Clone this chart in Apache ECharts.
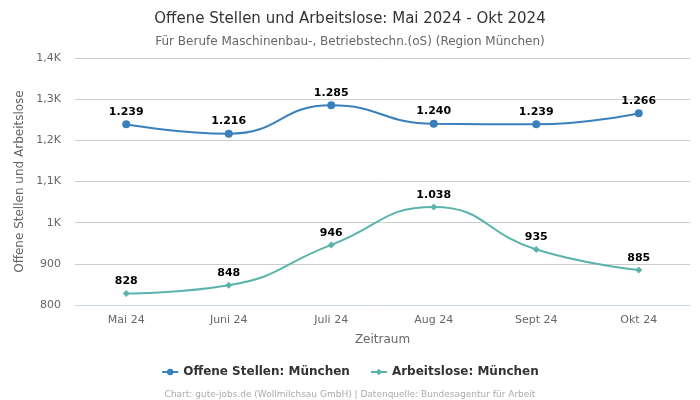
<!DOCTYPE html>
<html><head><meta charset="utf-8">
<script src="https://cdn.jsdelivr.net/npm/echarts@6/dist/echarts.min.js"></script>
<style>html,body{margin:0;padding:0;background:#fff}#c{width:700px;height:400px}</style>
</head><body><div id="c"></div>
<script>
var categories = ['Mai 24','Juni 24','Juli 24','Aug 24','Sept 24','Okt 24'];
var offeneStellen = [1239,1216,1285,1240,1239,1266];
var arbeitslose = [828,848,946,1038,935,885];
var yTicks = {min:800,max:1400,interval:100};

function deNum(v){return String(v).replace(/\B(?=(\d{3})+(?!\d))/g,'.');}
function yFmt(v){ if(v>=1000){return String(v/1000).replace('.',',')+'K';} return String(v); }
var font='DejaVu Sans';
var chart = echarts.init(document.getElementById('c'),null,{renderer:'canvas'});
chart.setOption({
  animation:false,
  textStyle:{fontFamily:font},
  title:[{text:'Offene Stellen und Arbeitslose: Mai 2024 - Okt 2024',left:'center',top:7,textStyle:{fontFamily:font,fontSize:15,fontWeight:'normal',color:'#333'}},
         {text:'Für Berufe Maschinenbau-, Betriebstechn.(oS) (Region München)',left:'center',top:31,textStyle:{fontFamily:font,fontSize:12,fontWeight:'normal',color:'#666'}},
         {text:'Chart: gute-jobs.de (Wollmilchsau GmbH) | Datenquelle: Bundesagentur für Arbeit',left:'center',top:385,textStyle:{fontFamily:font,fontSize:9,fontWeight:'normal',color:'#aaa'}}],
  legend:{top:361,left:'center',itemGap:20,itemWidth:16,itemHeight:8,textStyle:{fontFamily:font,fontSize:12,fontWeight:'bold',color:'#333'},
    data:['Offene Stellen: München','Arbeitslose: München']},
  grid:{left:75,right:10,top:58,bottom:95},
  xAxis:{type:'category',data:categories,boundaryGap:true,name:'Zeitraum',nameLocation:'middle',nameGap:29,
    nameTextStyle:{fontFamily:font,fontSize:12,color:'#666'},
    axisLine:{lineStyle:{color:'#ccd6eb'}},axisTick:{show:false},axisLabel:{fontFamily:font,fontSize:11,color:'#666',margin:10}},
  yAxis:{type:'value',min:yTicks.min,max:yTicks.max,interval:yTicks.interval,name:'Offene Stellen und Arbeitslose',nameLocation:'middle',nameGap:47,
    nameTextStyle:{fontFamily:font,fontSize:12,color:'#666'},
    axisLabel:{formatter:yFmt,fontFamily:font,fontSize:11,color:'#666',margin:14},
    splitLine:{lineStyle:{color:'#ccc'}},axisLine:{show:false},axisTick:{show:false}},
  series:[
    {name:'Offene Stellen: München',type:'line',smooth:true,data:offeneStellen,symbol:'circle',symbolSize:8,
     itemStyle:{color:'#3a80bd'},lineStyle:{width:2,color:'#3a80bd'},
     label:{show:true,position:'top',distance:3,formatter:function(p){return deNum(p.value);},fontFamily:font,fontSize:11,fontWeight:'bold',color:'#000'}},
    {name:'Arbeitslose: München',type:'line',smooth:true,data:arbeitslose,symbol:'diamond',symbolSize:7,
     itemStyle:{color:'#5ab4ac'},lineStyle:{width:2,color:'#5ab4ac'},
     label:{show:true,position:'top',distance:3,formatter:function(p){return deNum(p.value);},fontFamily:font,fontSize:11,fontWeight:'bold',color:'#000'}}
  ]
});
</script></body></html>
